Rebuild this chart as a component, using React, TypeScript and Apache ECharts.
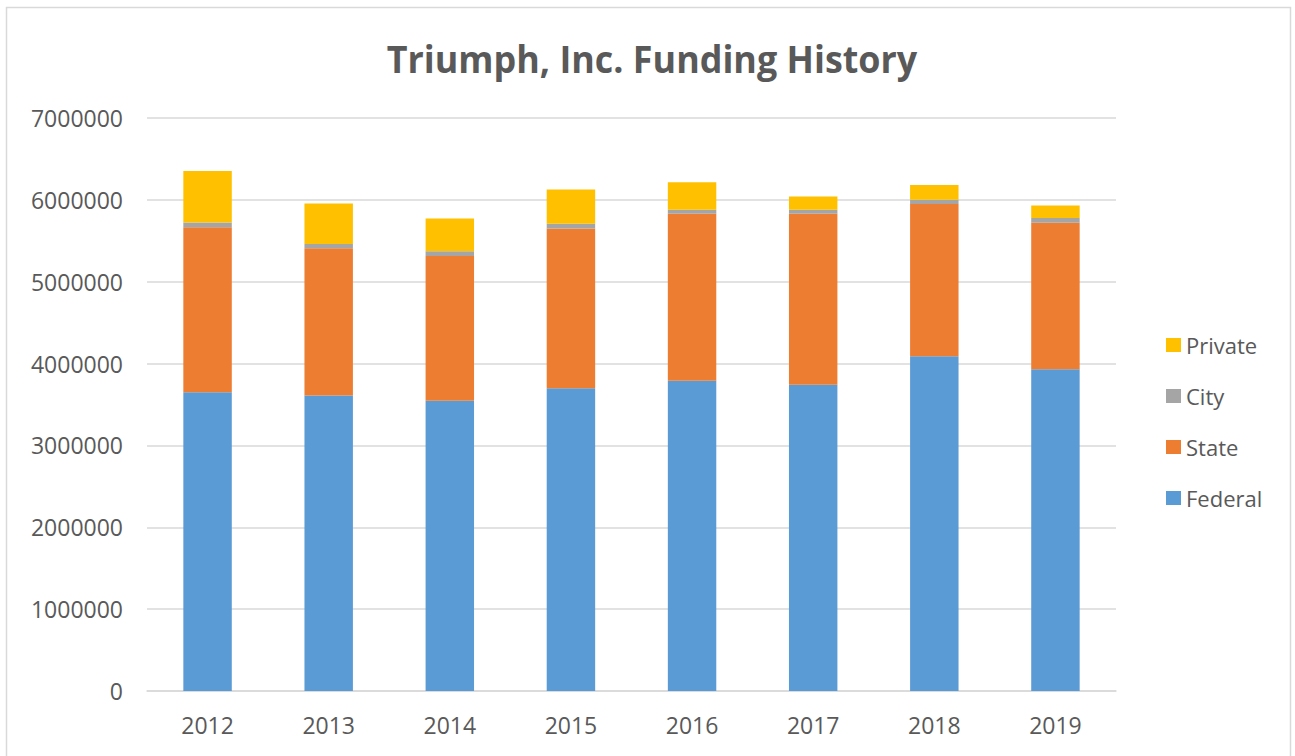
import React, { useEffect, useRef } from "react";
import * as echarts from "echarts";

const years = ["2012", "2013", "2014", "2015", "2016", "2017", "2018", "2019"];
const federal = [3650000, 3610000, 3545000, 3700000, 3790000, 3740000, 4090000, 3930000];
const state = [2015000, 1800000, 1770000, 1950000, 2040000, 2090000, 1860000, 1790000];
const city = [57000, 50000, 57000, 57000, 50000, 50000, 50000, 57000];
const privateFunds = [630000, 495000, 400000, 420000, 335000, 160000, 180000, 155000];
const legendOrder = ["Private", "City", "State", "Federal"];
const titleText = "Triumph, Inc. Funding History";

const FONT = "'Open Sans', 'Noto Sans', sans-serif";
const TEXT = "#595959";

export default function App() {
  const ref = useRef<HTMLDivElement>(null);
  useEffect(() => {
    if (!ref.current) return;
    const chart = echarts.init(ref.current, null, { renderer: "svg" });
    const mk = (name: string, data: number[], color: string) => ({
      name,
      type: "bar",
      stack: "total",
      data,
      barWidth: "40%",
      itemStyle: { color },
    });
    chart.setOption({
      animation: false,
      backgroundColor: "#ffffff",
      textStyle: { fontFamily: FONT },
      graphic: [
        {
          type: "rect",
          shape: { x: 6.5, y: 7.5, width: 1284, height: 800 },
          style: { fill: "none", stroke: "#d9d9d9", lineWidth: 1.5 },
          silent: true,
        },
        {
          type: "text",
          x: 652,
          y: 59,
          scaleX: 0.97,
          style: {
            text: titleText,
            fontFamily: FONT,
            fontWeight: "bold",
            fontSize: 37,
            fill: TEXT,
            align: "center",
            verticalAlign: "middle",
          },
        },
      ],
      legend: {
        data: legendOrder,
        orient: "vertical",
        left: 1161,
        top: 328,
        itemWidth: 15,
        itemHeight: 14,
        itemGap: 27,
        icon: "rect",
        textStyle: { fontFamily: FONT, fontSize: 22, color: TEXT, lineHeight: 24 },
      },
      grid: { left: 147, right: 179, top: 118, bottom: 65, containLabel: false },
      xAxis: {
        type: "category",
        data: years,
        axisLine: { lineStyle: { color: "#d9d9d9", width: 1.5 } },
        axisTick: { show: false },
        axisLabel: { fontFamily: FONT, fontSize: 23, color: TEXT, margin: 22 },
      },
      yAxis: {
        type: "value",
        min: 0,
        max: 7000000,
        interval: 1000000,
        axisLine: { show: false },
        axisTick: { show: false },
        splitLine: { lineStyle: { color: "#d9d9d9", width: 1.5 } },
        axisLabel: {
          fontFamily: FONT,
          fontSize: 23,
          color: TEXT,
          margin: 24,
          formatter: (v: number) => String(v),
        },
      },
      series: [
        mk("Federal", federal, "#5b9bd5"),
        mk("State", state, "#ed7d31"),
        mk("City", city, "#a5a5a5"),
        mk("Private", privateFunds, "#ffc000"),
      ],
    });
    return () => chart.dispose();
  }, []);
  return (
    <div
      ref={ref}
      style={{ position: "fixed", left: 0, top: 0, width: 1295, height: 756, background: "#fff" }}
    />
  );
}
